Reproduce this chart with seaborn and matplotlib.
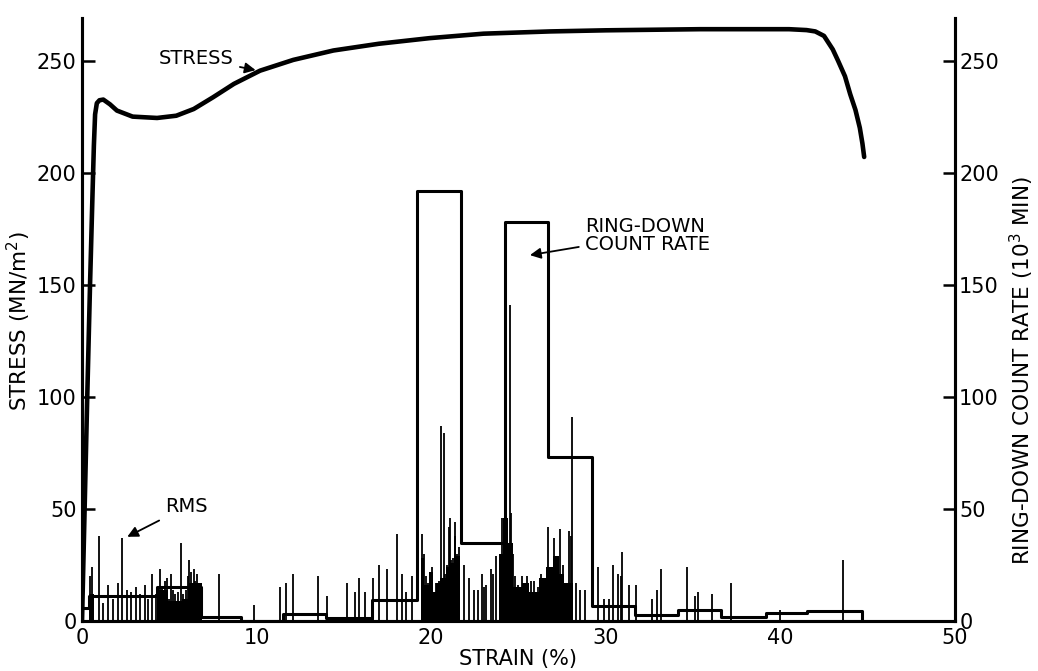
import numpy as np
import seaborn as sns
import matplotlib.pyplot as plt

# stress-strain curve
stress_strain = [0, 0.15, 0.3, 0.46, 0.6, 0.68, 0.75, 0.85, 1.0, 1.22, 1.6, 2.0,
                 2.9, 4.3, 5.4, 6.4, 7.5, 8.7, 10.2, 12.1, 14.4, 17.0, 19.9,
                 23.0, 26.8, 30.0, 35.4, 40.5, 41.5, 42.0, 42.5, 43.0, 43.3,
                 43.7, 44.0, 44.3, 44.55, 44.7, 44.8]
stress_val = [0, 50, 100, 150, 190, 212, 226, 231, 232.3, 232.6, 230.5, 227.7,
              225, 224.4, 225.4, 228.4, 233.6, 239.6, 245.5, 250.3, 254.5,
              257.5, 260, 262, 263, 263.5, 264, 264, 263.6, 263, 261, 255,
              250, 243, 235, 228, 220, 213, 207]

# ring-down count rate (10^3/min), step values starting at each edge
rate_edges = [0, 0.4, 4.3, 6.8, 9.1, 11.5, 14.0, 16.6, 19.2, 21.7, 24.2, 26.7,
              29.2, 31.7, 34.15, 36.6, 39.2, 41.5, 44.65]
rate_vals = [6, 11, 15, 2, 0, 3, 1.3, 9.5, 192, 35, 178, 73, 6.5, 2.5, 5, 2,
             3.5, 4.5, 0]

# RMS spikes (strain, height)
rms_x = [0.44, 0.57, 0.97, 1.2, 1.49, 1.75, 2.06, 2.3, 2.58, 2.83, 3.1, 3.35,
         3.59, 3.8, 4.0, 4.25, 4.47, 4.6, 4.75, 4.87, 5.0, 5.08, 5.2, 5.35,
         5.5, 5.65, 5.8, 5.95, 6.05, 6.13, 6.25, 6.4, 6.5, 6.6, 6.7, 7.83,
         9.85,
         11.34, 11.67, 12.07, 13.52, 14.03, 15.18, 15.64, 15.88, 16.21, 16.67,
         17.03, 17.49, 18.02, 18.31, 18.56, 18.9,
         19.49, 19.6, 19.7, 19.8, 19.95, 20.05, 20.2, 20.3, 20.45, 20.54, 20.6,
         20.71, 20.8, 20.9, 21.0, 21.05, 21.15, 21.25, 21.35, 21.5, 21.6,
         21.9, 22.19, 22.45, 22.66, 22.9, 23.05, 23.15, 23.4, 23.55, 23.7,
         23.94, 24.04, 24.2, 24.3, 24.5, 24.6, 24.7,
         24.8, 25.0, 25.2, 25.5, 25.7, 25.9, 26.1, 26.3, 26.5, 26.7, 26.85,
         27.05, 27.2, 27.4, 27.55, 27.7, 27.9, 28.0, 28.08, 28.3, 28.5, 28.8,
         29.57, 29.9, 30.2, 30.43, 30.72, 30.85, 30.95, 31.35, 31.71, 32.63,
         32.91, 33.16, 34.67, 35.1, 35.27, 36.1, 37.2, 40.0, 43.57]
rms_y = [20, 24, 38, 8, 16, 10, 17, 37, 14, 13, 15, 12,
         16, 10, 21, 12, 23, 15, 18, 19, 10, 21, 14, 12,
         13, 35, 12, 14, 20, 27, 22, 23, 18, 21, 15, 21,
         7,
         15, 17, 21, 20, 11, 17, 13, 19, 13, 19,
         25, 23, 39, 21, 13, 20,
         39, 30, 20, 17, 22, 24, 12, 17, 18, 87, 19,
         84, 21, 25, 42, 46, 27, 28, 44, 30, 33,
         25, 19, 14, 14, 21, 15, 16, 23, 21, 29,
         29, 46, 52, 50, 141, 48, 30,
         20, 16, 20, 20, 18, 18, 15, 21, 18, 42, 21,
         37, 29, 41, 25, 15, 40, 38, 91, 17, 14, 14,
         24, 10, 10, 25, 21, 20, 31, 16, 16, 10,
         14, 23, 24, 11, 13, 12, 17, 5, 27]

# densely filled parts of the RMS trace
rms_band_edges = [0.4, 0.7, 4.3, 4.9, 5.7, 6.1, 6.9,
                  19.4, 19.6, 19.9, 20.1, 20.3, 20.5, 20.85, 21.0, 21.1, 21.3,
                  21.4, 21.65,
                  23.9, 24.1, 24.4, 24.7, 25.2, 25.6, 26.2, 26.6, 27.0, 27.3,
                  27.6, 28.1]
rms_band_vals = [12, 0, 14, 9, 10, 17, 0,
                 28, 16, 22, 13, 17, 19, 24, 40, 26, 38, 29, 0,
                 30, 46, 35, 15, 17, 13, 19, 24, 29, 21, 17, 0]

sns.set_style('ticks')
plt.rcParams['font.family'] = ['DejaVu Sans']
plt.rcParams['font.size'] = 15
for k in ['text.color', 'axes.labelcolor', 'xtick.color', 'ytick.color',
          'axes.edgecolor']:
    plt.rcParams[k] = 'black'

fig = plt.figure(figsize=(10.38, 6.71), dpi=100)
ax = fig.add_axes([0.079, 0.0745, 0.841, 0.8987])

ax.fill_between(rms_band_edges, 0, rms_band_vals, step='post',
                color='black', lw=0)
ax.vlines(rms_x, 0, rms_y, color='black', lw=1.3)

sns.lineplot(x=rate_edges, y=rate_vals, drawstyle='steps-post',
             estimator=None, color='black', lw=2.2, ax=ax)
sns.lineplot(x=stress_strain, y=stress_val, sort=False, estimator=None,
             color='black', lw=3.3, ax=ax)

ax.set_xlim(0, 50)
ax.set_ylim(0, 269)
ax.set_xticks([0, 10, 20, 30, 40, 50])
ax.set_yticks([0, 50, 100, 150, 200, 250])
ax.tick_params(axis='x', length=0, pad=5, labelsize=15)
ax.tick_params(axis='y', direction='in', length=9, width=1.8, pad=4,
               labelsize=15)
for s in ['left', 'bottom', 'right']:
    ax.spines[s].set_linewidth(2.2)
ax.spines['top'].set_visible(False)
ax.set_xlabel('STRAIN (%)', fontsize=15, labelpad=1)
ax.set_ylabel('STRESS (MN/m$^2$)', fontsize=15.5)
ax.yaxis.set_label_coords(-0.056, 0.497)

ax2 = ax.twinx()
ax2.set_ylim(0, 269)
ax2.set_yticks([0, 50, 100, 150, 200, 250])
ax2.tick_params(axis='y', direction='in', length=9, width=1.8, pad=3,
                labelsize=15)
for s in ['left', 'bottom', 'right']:
    ax2.spines[s].set_linewidth(2.2)
ax2.spines['top'].set_visible(False)
ax2.set_ylabel('RING-DOWN COUNT RATE (10$^3$ MIN)', fontsize=15.5)
ax2.yaxis.set_label_coords(1.06, 0.416)

arrow = dict(arrowstyle='-|>', color='black', lw=1.3, mutation_scale=16)
ax.annotate('STRESS', xy=(10.1, 245.5), xytext=(8.7, 251),
            ha='right', va='center', fontsize=14, arrowprops=arrow)
ax.annotate('RMS', xy=(2.45, 37), xytext=(4.75, 51),
            ha='left', va='center', fontsize=14, arrowprops=arrow)
ax.annotate('RING-DOWN\nCOUNT RATE', xy=(25.5, 163), xytext=(28.8, 172),
            ha='left', va='center', fontsize=14, linespacing=0.95,
            arrowprops=arrow)

plt.savefig('out.png', dpi=100)
